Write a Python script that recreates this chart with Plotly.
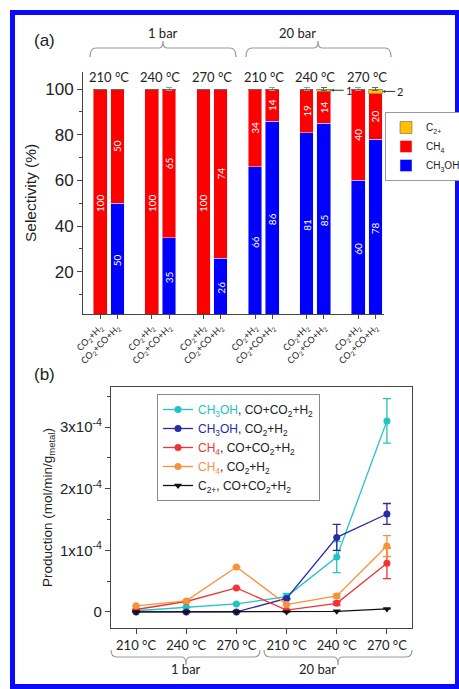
import plotly.graph_objects as go

W, H = 459, 689
def px(x): return x / W
def py(y): return 1 - y / H

# ---------------- data: panel (a) ----------------
pressures = ["1 bar", "20 bar"]
temps = ["210 °C", "240 °C", "270 °C", "210 °C", "240 °C", "270 °C"]
feeds = ["CO<sub>2</sub>+H<sub>2</sub>", "CO<sub>2</sub>+CO+H<sub>2</sub>"]
bar_pos = [0, 1, 3, 4, 6, 7, 9, 10, 12, 13, 15, 16]
sel_ch3oh = [0, 50, 0, 35, 0, 26, 66, 86, 81, 85, 60, 78]
sel_ch4 = [100, 50, 100, 65, 100, 74, 34, 14, 19, 14, 40, 20]
sel_c2 = [0, 0, 0, 0, 0, 0, 0, 0, 0, 1, 0, 2]
err_ch4 = [0, 0, 0, 0.8, 0, 0, 0, 0.6, 0.6, 0, 0.6, 0]
err_c2 = [0, 0, 0, 0, 0, 0, 0, 0, 0, 0.5, 0, 0.5]
bar_ticks = feeds * 6

# ---------------- data: panel (b) (units of 1e-4 mol/min/g_metal) ----------------
prod_x = [0, 1, 2, 3, 4, 5]
ch3oh_mix = [0.02, 0.08, 0.13, 0.25, 0.89, 3.10]
ch3oh_mix_err = [0, 0, 0, 0.05, 0.25, 0.36]
ch3oh_co2 = [0.0, 0.0, 0.0, 0.22, 1.21, 1.59]
ch3oh_co2_err = [0, 0, 0, 0, 0.21, 0.17]
ch4_mix = [0.04, 0.17, 0.39, 0.03, 0.14, 0.79]
ch4_mix_err = [0, 0, 0, 0, 0.03, 0.25]
ch4_co2 = [0.10, 0.18, 0.73, 0.12, 0.26, 1.07]
ch4_co2_err = [0, 0, 0, 0, 0.03, 0.17]
c2_mix = [0.0, 0.0, 0.0, 0.0, 0.01, 0.05]
prod_ticks = [0, 1, 2, 3]
prod_ticktext = ["0", "1x10<sup>-4</sup>", "2x10<sup>-4</sup>", "3x10<sup>-4</sup>"]

BLUE, RED, GOLD = "#0000ff", "#ff0000", "#ffc000"
CYAN, NAVY, RED2, ORANGE = "#22c3c3", "#2a2aa6", "#f03434", "#f7923a"
ARIAL = "Liberation Sans, Arial"
LATO = "Lato, Open Sans"

fig = go.Figure()

def txt(vals):
    return [str(v) if v > 0 else "" for v in vals]

fig.add_trace(go.Bar(x=bar_pos, y=sel_ch3oh, name="CH<sub>3</sub>OH", marker_color=BLUE,
                     width=0.8, text=txt(sel_ch3oh), textposition="inside", insidetextanchor="middle",
                     textangle=-90, textfont=dict(color="white", size=10, family=LATO),
                     constraintext="none", legend="legend", xaxis="x", yaxis="y"))
fig.add_trace(go.Bar(x=bar_pos, y=sel_ch4, name="CH<sub>4</sub>", marker_color=RED,
                     width=0.8, text=txt(sel_ch4), textposition="inside", insidetextanchor="middle",
                     textangle=-90, textfont=dict(color="white", size=10, family=LATO),
                     constraintext="none",
                     error_y=dict(type="data", array=err_ch4, color="#999", thickness=1, width=3),
                     legend="legend", xaxis="x", yaxis="y"))
fig.add_trace(go.Bar(x=bar_pos, y=sel_c2, name="C<sub>2+</sub>", marker_color=GOLD,
                     marker_line=dict(color="#555", width=0.5),
                     width=0.8, text=[""] * len(bar_pos), textposition="none",
                     error_y=dict(type="data", array=err_c2, color="#666", thickness=1, width=3),
                     legend="legend", xaxis="x", yaxis="y"))

def line(y, err, color, name, symbol="circle"):
    fig.add_trace(go.Scatter(x=prod_x, y=y, mode="lines+markers", name=name,
                             line=dict(color=color, width=1.3),
                             marker=dict(color=color, size=7, symbol=symbol),
                             error_y=dict(type="data", array=err, color=color, thickness=1.3, width=4),
                             legend="legend2", xaxis="x2", yaxis="y2"))

sub = "CO+CO<sub>2</sub>+H<sub>2</sub>"
sub2 = "CO<sub>2</sub>+H<sub>2</sub>"
line(ch3oh_mix, ch3oh_mix_err, CYAN, f'<span style="color:{CYAN}">CH<sub>3</sub>OH</span>, {sub}')
line(ch3oh_co2, ch3oh_co2_err, NAVY, f'<span style="color:{NAVY}">CH<sub>3</sub>OH</span>, {sub2}')
line(ch4_mix, ch4_mix_err, RED2, f'<span style="color:{RED2}">CH<sub>4</sub></span>, {sub}')
line(ch4_co2, ch4_co2_err, ORANGE, f'<span style="color:{ORANGE}">CH<sub>4</sub></span>, {sub2}')
line(c2_mix, [0] * 6, "#111111", f'C<sub>2+</sub>, {sub}', symbol="triangle-down")

shapes = []
# blue frame
shapes.append(dict(type="rect", xref="paper", yref="paper", x0=px(12.5), x1=px(457.5),
                   y0=py(686.5), y1=py(12.5), line=dict(color="#0a0aff", width=5)))

def bracket_top(x0, x1, xc):
    p = (f"M {px(x0)},{py(57)} Q {px(x0)},{py(48)} {px(x0+6)},{py(48)} "
         f"L {px(xc-4)},{py(48)} Q {px(xc)},{py(48)} {px(xc)},{py(41)} "
         f"Q {px(xc)},{py(48)} {px(xc+4)},{py(48)} L {px(x1-6)},{py(48)} "
         f"Q {px(x1)},{py(48)} {px(x1)},{py(57)}")
    return dict(type="path", xref="paper", yref="paper", path=p, line=dict(color="#9a9a9a", width=1.2))

def bracket_bot(x0, x1, xc):
    p = (f"M {px(x0)},{py(650)} Q {px(x0)},{py(657)} {px(x0+6)},{py(657)} "
         f"L {px(xc-4)},{py(657)} Q {px(xc)},{py(657)} {px(xc)},{py(665)} "
         f"Q {px(xc)},{py(657)} {px(xc+4)},{py(657)} L {px(x1-6)},{py(657)} "
         f"Q {px(x1)},{py(657)} {px(x1)},{py(650)}")
    return dict(type="path", xref="paper", yref="paper", path=p, line=dict(color="#9a9a9a", width=1.2))

shapes += [bracket_top(90, 236, 163), bracket_top(246, 391, 318),
           bracket_bot(111, 260, 186), bracket_bot(264, 412, 338)]

ann = []
ann.append(dict(text="(a)", x=px(32), y=py(29), xref="paper", yref="paper", showarrow=False,
                font=dict(size=17, family=ARIAL, color="#222")))
ann.append(dict(text="(b)", x=px(32), y=py(375), xref="paper", yref="paper", showarrow=False,
                font=dict(size=17, family=ARIAL, color="#222")))
ann.append(dict(text=pressures[0], x=px(163), y=py(23), xref="paper", yref="paper", showarrow=False,
                font=dict(size=13, family=LATO, color="#222")))
ann.append(dict(text=pressures[1], x=px(318), y=py(23), xref="paper", yref="paper", showarrow=False,
                font=dict(size=13, family=LATO, color="#222")))
for i, t in enumerate(temps):
    ann.append(dict(text=t, x=3 * i + 0.5, y=py(67), xref="x", yref="paper", showarrow=False,
                    font=dict(size=13, family=LATO, color="#222")))
ann.append(dict(text=pressures[0], x=px(186), y=py(679), xref="paper", yref="paper", showarrow=False,
                font=dict(size=13, family=LATO, color="#222")))
ann.append(dict(text=pressures[1], x=px(338), y=py(679), xref="paper", yref="paper", showarrow=False,
                font=dict(size=13, family=LATO, color="#222")))
for idx in (9, 11):
    ann.append(dict(text=str(sel_c2[idx]), x=bar_pos[idx] + 0.4, y=100 - sel_c2[idx] / 2,
                    xref="x", yref="y", showarrow=True, arrowhead=2, arrowsize=0.6, arrowwidth=1,
                    arrowcolor="#333", ax=13, ay=0, xanchor="left",
                    font=dict(size=11, family=LATO, color="#222")))

fig.update_layout(
    width=W, height=H, margin=dict(l=0, r=0, t=0, b=0, autoexpand=False),
    paper_bgcolor="white", plot_bgcolor="white",
    barmode="stack", shapes=shapes, annotations=ann,
    xaxis=dict(domain=[px(83), px(384)], range=[-1, 16.5], anchor="y", automargin=False,
               tickvals=bar_pos, ticktext=bar_ticks, tickangle=-45,
               tickfont=dict(size=9, family=LATO, color="#222"),
               ticks="outside", ticklen=4, tickcolor="#444",
               showline=True, linecolor="#444", linewidth=1, showgrid=False, zeroline=False),
    yaxis=dict(domain=[py(314), py(72)], range=[1.5, 107.5], anchor="x", automargin=False,
               tickvals=[20, 40, 60, 80, 100], tickfont=dict(size=17, family=ARIAL, color="#222"),
               ticks="outside", ticklen=5, tickcolor="#444",
               minor=dict(tickvals=[10, 30, 50, 70, 90], ticks="outside", ticklen=3, tickcolor="#444"),
               showline=True, linecolor="#444", linewidth=1, showgrid=False, zeroline=False,
               title=dict(text="Selectivity (%)", font=dict(size=15.5, family=ARIAL, color="#222"),
                          standoff=4)),
    xaxis2=dict(domain=[px(111), px(412)], range=[-0.5, 5.5], anchor="y2", automargin=False,
                tickvals=prod_x, ticktext=temps, tickfont=dict(size=13, family=LATO, color="#222"),
                ticks="outside", ticklen=5, tickcolor="#444",
                showline=True, mirror=True, linecolor="#444", linewidth=1.3,
                showgrid=False, zeroline=False),
    yaxis2=dict(domain=[py(628), py(387)], range=[-0.26, 3.65], anchor="x2", automargin=False,
                tickvals=prod_ticks, ticktext=prod_ticktext,
                tickfont=dict(size=15, family=ARIAL, color="#222"),
                ticks="outside", ticklen=5, tickcolor="#444",
                minor=dict(tickvals=[0.5, 1.5, 2.5, 3.5], ticks="outside", ticklen=3, tickcolor="#444"),
                showline=True, mirror=True, linecolor="#444", linewidth=1.3,
                showgrid=False, zeroline=False,
                title=dict(text="Production (mol/min/g<sub>metal</sub>)",
                           font=dict(size=13.5, family=ARIAL, color="#222"), standoff=4)),
    legend=dict(x=px(385), y=py(112), xanchor="left", yanchor="top", traceorder="reversed",
                bgcolor="white", bordercolor="#999", borderwidth=1,
                font=dict(size=10, family=ARIAL, color="#222"), itemwidth=30, tracegroupgap=0),
    legend2=dict(x=px(157), y=py(394), xanchor="left", yanchor="top",
                 bgcolor="white", bordercolor="#888", borderwidth=1,
                 font=dict(size=12, family=ARIAL, color="#222"), itemwidth=30, tracegroupgap=0),
)

fig.write_html("out.html", config={"displayModeBar": False},
               post_script="document.body.style.margin='0px';")
